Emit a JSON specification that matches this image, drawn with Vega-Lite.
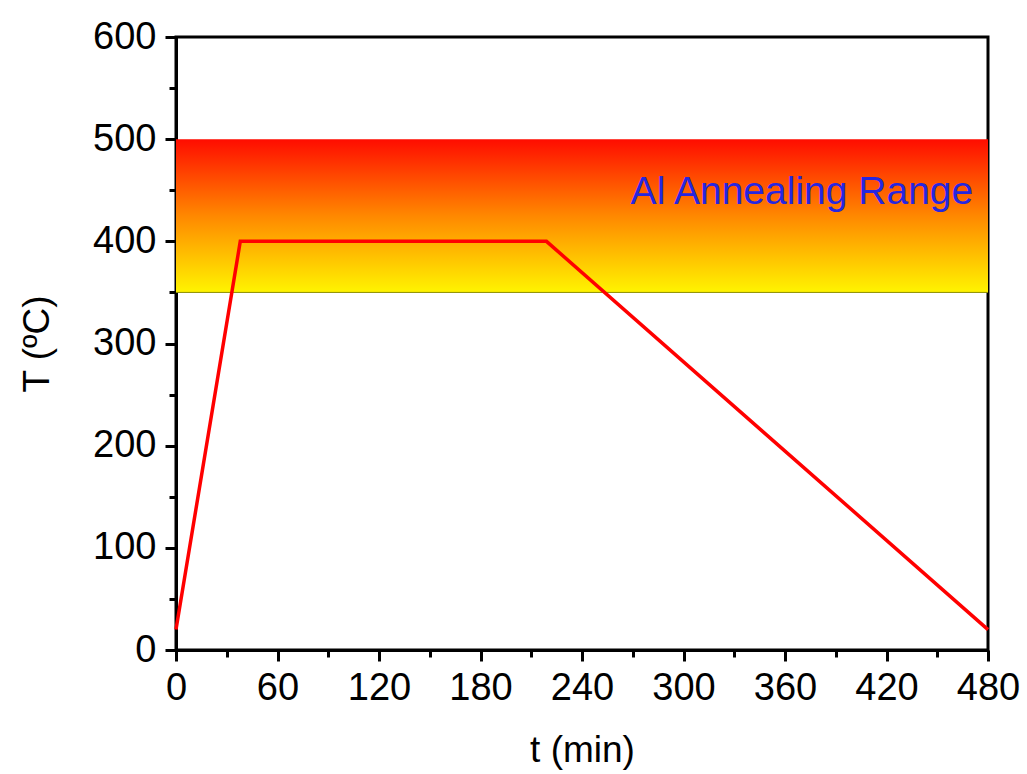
{
  "$schema": "https://vega.github.io/schema/vega-lite/v6.json",
  "width": 812,
  "height": 613,
  "autosize": {"type": "none"},
  "padding": {"left": 176, "top": 37, "right": 39, "bottom": 124},
  "background": "white",
  "config": {
    "view": {"stroke": "black", "strokeWidth": 3},
    "font": "Liberation Sans",
    "axis": {
      "domainColor": "black",
      "domainWidth": 3,
      "tickColor": "black",
      "tickWidth": 3,
      "labelFont": "Liberation Sans",
      "labelFontSize": 38,
      "labelColor": "black",
      "titleFont": "Liberation Sans",
      "titleFontSize": 37,
      "titleFontWeight": "normal",
      "titleColor": "black",
      "grid": false,
      "labelFlush": false,
      "labelOverlap": false
    }
  },
  "datasets": {
    "band": [{"t0": 0, "t1": 480, "lo": 350, "hi": 500}],
    "profile": [
      {"t": 0, "T": 20},
      {"t": 38, "T": 400},
      {"t": 219, "T": 400},
      {"t": 480, "T": 20}
    ]
  },
  "layer": [
    {
      "data": {"name": "band"},
      "mark": {
        "type": "rect",
        "fill": {
          "gradient": "linear",
          "x1": 0, "y1": 0, "x2": 0, "y2": 1,
          "stops": [
            {"offset": 0, "color": "#ff0c00"},
            {"offset": 0.5, "color": "#ff8800"},
            {"offset": 1, "color": "#fff400"}
          ]
        }
      },
      "encoding": {
        "x": {
          "field": "t0", "type": "quantitative",
          "scale": {"domain": [0, 480], "nice": false, "zero": false},
          "axis": {
            "orient": "bottom",
            "values": [0, 60, 120, 180, 240, 300, 360, 420, 480],
            "tickSize": 11,
            "labelPadding": 8,
            "title": "t (min)",
            "titlePadding": 25
          }
        },
        "x2": {"field": "t1"},
        "y": {
          "field": "lo", "type": "quantitative",
          "scale": {"domain": [0, 600], "nice": false, "zero": false},
          "axis": {
            "orient": "left",
            "values": [0, 100, 200, 300, 400, 500, 600],
            "tickSize": 11,
            "labelPadding": 9,
            "title": "T (ºC)",
            "titlePadding": 36
          }
        },
        "y2": {"field": "hi"}
      }
    },
    {
      "data": {"name": "band"},
      "mark": {"type": "rule", "color": "#8c8c00", "strokeWidth": 1},
      "encoding": {
        "y": {"datum": 350, "type": "quantitative", "axis": null}
      }
    },
    {
      "data": {"name": "profile"},
      "mark": {"type": "line", "color": "#ff0000", "strokeWidth": 3.5},
      "encoding": {
        "x": {
          "field": "t", "type": "quantitative",
          "axis": {
            "orient": "bottom",
            "values": [30, 90, 150, 210, 270, 330, 390, 450],
            "tickSize": 7,
            "labels": false,
            "domain": false,
            "title": null
          }
        },
        "y": {
          "field": "T", "type": "quantitative",
          "axis": {
            "orient": "left",
            "values": [50, 150, 250, 350, 450, 550],
            "tickSize": 7,
            "labels": false,
            "domain": false,
            "title": null
          }
        }
      }
    },
    {
      "data": {"values": [{"label": "Al Annealing Range"}]},
      "mark": {"type": "text", "font": "Liberation Sans", "fontSize": 39, "color": "#2626e0", "align": "center", "baseline": "middle"},
      "encoding": {
        "text": {"field": "label"},
        "x": {"datum": 370, "type": "quantitative", "axis": null},
        "y": {"datum": 448, "type": "quantitative", "axis": null}
      }
    }
  ],
  "resolve": {"axis": {"x": "independent", "y": "independent"}}
}
